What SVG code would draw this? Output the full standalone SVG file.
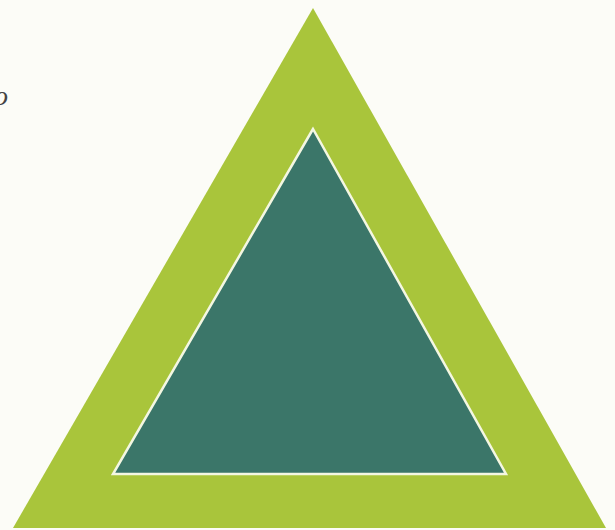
<svg xmlns="http://www.w3.org/2000/svg" width="615" height="530" viewBox="0 0 615 530">
<style>
.outer{fill:#a9c53b}
.inner{fill:#3b7669;stroke:#f4f7e2;stroke-width:2.5;stroke-linejoin:miter}
.frag{font-family:"Liberation Serif",serif;font-style:italic;font-size:28px;fill:#444}
</style>
<rect width="615" height="530" fill="#fcfcf7"/>
<g id="outer-triangle"><polygon class="outer" points="313,8 13,528 606,528"/></g>
<g id="inner-triangle"><polygon class="inner" points="313,129 113,474 506,474"/></g>
<text class="frag" x="-6" y="105">o</text>
</svg>
